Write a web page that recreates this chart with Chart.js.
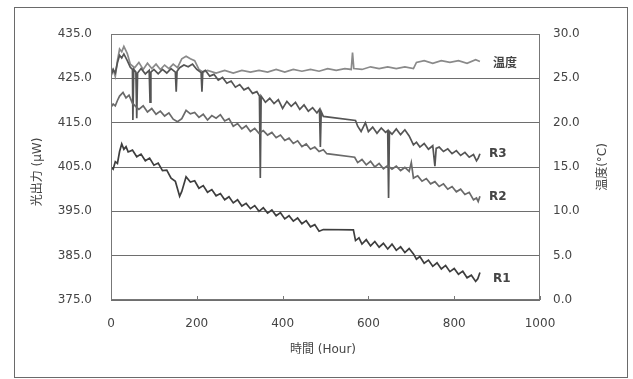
<!DOCTYPE html>
<html>
<head>
<meta charset="utf-8">
<script src="https://cdn.jsdelivr.net/npm/chart.js@4/dist/chart.umd.min.js"></script>
<style>
  html, body { margin: 0; padding: 0; background: #fff; }
  #wrap { width: 633px; height: 379px; }
</style>
</head>
<body>
<div id="wrap"><canvas id="lifeChart"></canvas></div>
<script>
// light output (uW) vs. time (Hour)
const r1Hours = [0, 5, 10, 15, 20, 25, 30, 35, 40, 50, 60, 70, 80, 90, 100, 110, 120, 130, 140, 150, 160, 165, 175, 185, 195, 205, 215, 225, 235, 245, 255, 265, 275, 285, 295, 305, 315, 325, 335, 345, 355, 365, 375, 385, 395, 405, 415, 425, 435, 445, 455, 465, 475, 485, 495, 565, 570, 578, 585, 595, 605, 615, 625, 635, 645, 655, 665, 675, 685, 695, 705, 712, 720, 730, 740, 750, 760, 770, 780, 790, 800, 810, 820, 830, 840, 850, 855, 860];
const r1Power = [405.0, 404.5, 406.2, 405.8, 408.5, 410.2, 409.0, 409.6, 408.4, 408.8, 407.3, 407.9, 406.4, 407.0, 405.4, 405.9, 404.2, 404.3, 402.5, 401.8, 398.4, 399.5, 402.8, 401.6, 401.9, 400.2, 400.8, 399.3, 399.9, 398.5, 399.0, 397.6, 398.3, 396.9, 397.6, 396.2, 396.8, 395.6, 396.3, 395.0, 395.8, 394.6, 395.3, 394.0, 394.7, 393.3, 394.0, 392.8, 393.5, 392.2, 392.9, 391.5, 392.0, 390.5, 390.9, 390.8, 388.4, 389.0, 387.6, 388.6, 387.2, 388.2, 386.9, 387.8, 386.5, 387.6, 386.2, 387.0, 385.7, 386.6, 385.4, 384.2, 384.8, 383.3, 384.0, 382.6, 383.4, 382.0, 382.8, 381.4, 382.1, 380.8, 381.5, 380.0, 380.6, 379.2, 379.8, 381.2];

const r2Hours = [0, 5, 10, 15, 20, 28, 35, 42, 50, 58, 65, 75, 85, 95, 105, 115, 125, 135, 145, 155, 165, 175, 185, 195, 205, 215, 225, 235, 245, 255, 265, 275, 285, 295, 305, 315, 325, 335, 345, 355, 365, 375, 385, 395, 405, 415, 425, 435, 445, 455, 465, 475, 485, 495, 503, 568, 575, 585, 595, 605, 615, 625, 635, 645, 655, 665, 675, 685, 695, 700, 705, 715, 725, 735, 745, 755, 765, 775, 785, 795, 805, 815, 825, 835, 845, 852, 856, 860];
const r2Power = [418.5, 419.2, 418.8, 420.0, 421.0, 421.8, 420.6, 421.2, 419.4, 418.6, 418.0, 418.8, 417.4, 418.2, 416.9, 417.6, 416.5, 417.2, 415.8, 415.2, 415.9, 417.8, 417.0, 417.3, 416.2, 416.9, 415.6, 416.6, 416.0, 416.8, 415.4, 415.9, 414.2, 414.8, 413.6, 414.3, 413.0, 413.7, 412.6, 413.2, 412.2, 412.8, 411.6, 412.2, 411.0, 411.5, 410.3, 410.9, 409.6, 410.2, 409.0, 409.5, 408.5, 408.9, 408.0, 407.2, 406.0, 406.7, 405.5, 406.3, 405.0, 405.8, 404.6, 405.3, 404.5, 405.2, 404.2, 404.9, 404.0, 406.0, 402.5, 403.0, 401.8, 402.4, 401.2, 401.7, 400.6, 401.2, 400.0, 400.6, 399.4, 400.0, 398.8, 399.3, 397.6, 398.0, 397.2, 398.4];

const r3Hours = [0, 5, 10, 15, 20, 25, 30, 38, 45, 50, 51, 53, 58, 60, 62, 70, 80, 89, 91, 93, 100, 110, 120, 130, 140, 150, 152, 154, 160, 170, 180, 190, 200, 210, 212, 214, 220, 230, 240, 250, 260, 270, 280, 290, 300, 310, 320, 330, 340, 346, 348, 350, 360, 370, 380, 390, 400, 410, 420, 430, 440, 450, 460, 470, 480, 486, 488, 490, 495, 570, 575, 583, 593, 600, 610, 620, 630, 640, 645, 647, 649, 655, 665, 675, 685, 695, 705, 712, 720, 730, 740, 750, 755, 758, 765, 775, 785, 795, 805, 815, 825, 835, 845, 852, 856, 860];
const r3Power = [425.5, 427.0, 426.2, 428.5, 430.2, 429.6, 430.5, 429.0, 427.5, 427.0, 415.6, 427.0, 426.4, 416.0, 426.2, 427.2, 426.0, 426.8, 419.6, 426.4, 427.0, 426.0, 427.0, 426.2, 427.2, 426.4, 422.0, 426.6, 427.4, 428.0, 427.6, 428.2, 427.0, 426.3, 422.0, 426.5, 426.8, 425.5, 425.9, 424.6, 425.2, 423.9, 424.4, 423.0, 423.6, 422.4, 422.9, 421.6, 422.0, 421.0, 402.5, 421.0, 419.6, 420.5, 419.3, 420.2, 418.2, 419.8, 418.7, 419.6, 418.0, 419.0, 417.6, 418.4, 417.2, 418.0, 409.5, 417.5, 416.4, 415.5, 414.2, 413.0, 415.0, 413.0, 414.0, 412.6, 413.8, 412.8, 413.2, 398.0, 413.0, 412.4, 413.6, 412.3, 413.4, 412.0, 410.0, 410.6, 409.5, 410.3, 409.0, 409.8, 405.2, 409.2, 409.5, 408.5, 409.1, 408.0, 408.7, 407.6, 408.3, 407.2, 407.8, 406.4, 407.0, 408.0];

// temperature (deg C), right axis
const tempHours = [0, 5, 10, 15, 20, 25, 30, 38, 45, 55, 65, 75, 85, 95, 105, 115, 125, 135, 145, 155, 165, 175, 185, 195, 205, 215, 225, 245, 265, 285, 305, 325, 345, 365, 385, 405, 425, 445, 465, 485, 505, 525, 545, 560, 563, 566, 585, 605, 625, 645, 665, 685, 705, 712, 730, 750, 770, 790, 810, 830, 850, 860];
const tempValues = [25.5, 26.0, 25.2, 27.0, 28.3, 28.0, 28.6, 27.8, 26.6, 26.2, 26.8, 26.0, 26.7, 26.1, 26.6, 26.0, 26.5, 26.1, 26.6, 26.2, 27.2, 27.5, 27.2, 27.0, 26.0, 25.7, 25.9, 25.6, 25.9, 25.6, 25.9, 25.7, 25.9, 25.7, 26.0, 25.7, 26.0, 25.8, 26.0, 25.8, 26.1, 25.9, 26.1, 26.0, 27.9, 26.1, 26.0, 26.3, 26.1, 26.3, 26.1, 26.3, 26.1, 26.8, 27.0, 26.7, 27.0, 26.8, 27.0, 26.7, 27.1, 26.9];

const seriesNames = ['R1', 'R2', 'R3', '温度'];
const leftTickValues = [375, 385, 395, 405, 415, 425, 435];
const rightTickValues = [0, 5, 10, 15, 20, 25, 30];
const hourTicks = [0, 200, 400, 600, 800, 1000];

function pairs(xs, ys) {
  return xs.map((x, i) => ({ x: x, y: ys[i] }));
}

const FONT = '"DejaVu Sans", "Noto Sans CJK JP", sans-serif';
const TXT = '#444';

const decor = {
  id: 'decor',
  beforeDraw(chart) {
    const ctx = chart.ctx;
    ctx.save();
    ctx.fillStyle = '#fff';
    ctx.fillRect(0, 0, chart.width, chart.height);
    ctx.restore();
  },
  afterDraw(chart) {
    const { ctx, chartArea: a, scales } = chart;
    ctx.save();
    // outer frame of the figure
    ctx.strokeStyle = '#6a6a6a';
    ctx.lineWidth = 1;
    ctx.strokeRect(14.5, 7.5, 613, 370);
    // plot frame
    ctx.strokeStyle = '#777';
    ctx.strokeRect(a.left + 0.5, a.top + 0.5, a.width - 1, a.height - 1);
    // small inner ticks on the time axis
    ctx.beginPath();
    hourTicks.forEach(h => {
      const px = Math.round(scales.x.getPixelForValue(h)) + 0.5;
      ctx.moveTo(px, a.bottom);
      ctx.lineTo(px, a.bottom - 4);
    });
    ctx.stroke();

    // axis titles
    ctx.fillStyle = TXT;
    ctx.font = '12px ' + FONT;
    ctx.textAlign = 'center';
    ctx.textBaseline = 'middle';
    ctx.fillText('時間 (Hour)', 323, 350);
    ctx.save();
    ctx.translate(38, 172);
    ctx.rotate(-Math.PI / 2);
    ctx.fillText('光出力 (μW)', 0, 0);
    ctx.restore();
    ctx.save();
    ctx.translate(603, 167);
    ctx.rotate(-Math.PI / 2);
    ctx.fillText('温度(°C)', 0, 0);
    ctx.restore();

    // series names next to the end of each trace
    ctx.font = 'bold 12px ' + FONT;
    ctx.textAlign = 'left';
    const offsets = [[13, 6], [9, 1], [9, 0], [13, 2]];
    chart.data.datasets.forEach((ds, i) => {
      const meta = chart.getDatasetMeta(i);
      const last = meta.data[meta.data.length - 1];
      ctx.fillText(seriesNames[i], last.x + offsets[i][0], last.y + offsets[i][1]);
    });
    ctx.restore();
  }
};

const lifeData = {
  datasets: [
    { label: seriesNames[0], data: pairs(r1Hours, r1Power), yAxisID: 'y', borderColor: '#3e3e3e' },
    { label: seriesNames[1], data: pairs(r2Hours, r2Power), yAxisID: 'y', borderColor: '#6a6a6a' },
    { label: seriesNames[2], data: pairs(r3Hours, r3Power), yAxisID: 'y', borderColor: '#555' },
    { label: seriesNames[3], data: pairs(tempHours, tempValues), yAxisID: 'y1', borderColor: '#8a8a8a' }
  ]
};

const lifeConfig = {
  type: 'line',
  data: lifeData,
  options: {
    responsive: true,
    maintainAspectRatio: false,
    animation: false,
    layout: { padding: { top: 34, left: 0, right: 0, bottom: 0 } },
    elements: {
      point: { radius: 0 },
      line: { borderWidth: 1.7, tension: 0 }
    },
    plugins: {
      legend: { display: false },
      tooltip: { enabled: false }
    },
    scales: {
      x: {
        type: 'linear',
        min: 0,
        max: 1000,
        afterBuildTicks: s => { s.ticks = hourTicks.map(v => ({ value: v })); },
        afterFit: s => { s.height = 79; },
        grid: { display: false, drawTicks: false },
        border: { display: false },
        ticks: { padding: 17, color: TXT, font: { family: FONT, size: 12 }, maxRotation: 0, callback: v => String(v) }
      },
      y: {
        position: 'left',
        min: 375,
        max: 435,
        afterBuildTicks: s => { s.ticks = leftTickValues.map(v => ({ value: v })); },
        afterFit: s => { s.width = 111; },
        grid: { color: '#6e6e6e', lineWidth: 1, drawTicks: false },
        border: { display: false },
        ticks: { padding: 19, color: TXT, font: { family: FONT, size: 12 }, callback: v => v.toFixed(1) }
      },
      y1: {
        position: 'right',
        min: 0,
        max: 30,
        afterBuildTicks: s => { s.ticks = rightTickValues.map(v => ({ value: v })); },
        afterFit: s => { s.width = 93; },
        grid: { display: false, drawTicks: false },
        border: { display: false },
        ticks: { padding: 13, color: TXT, font: { family: FONT, size: 12 }, callback: v => v.toFixed(1) }
      }
    }
  },
  plugins: [decor]
};

const lifeChart = new Chart(document.getElementById('lifeChart'), lifeConfig);
</script>
</body>
</html>
